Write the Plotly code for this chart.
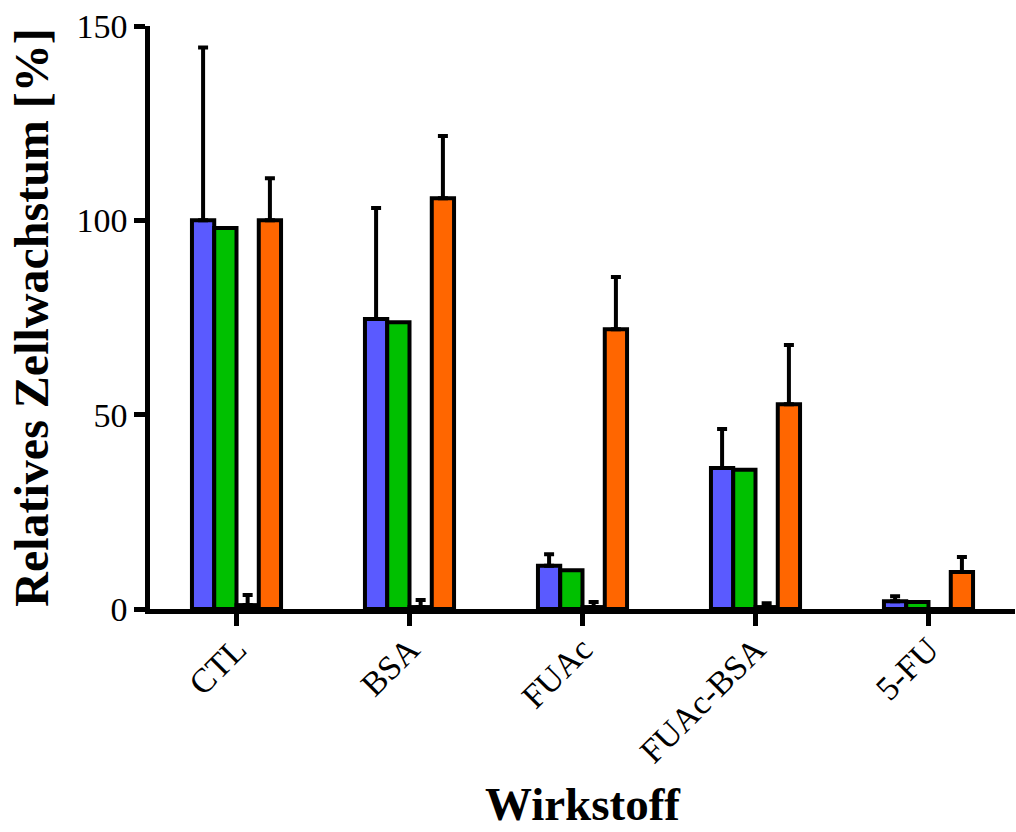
import plotly.graph_objects as go

categories = ["CTL", "BSA", "FUAc", "FUAc-BSA", "5-FU"]

blue_vals = [100.0, 74.6, 11.1, 36.3, 2.0]
blue_err = [44.5, 28.6, 3.0, 10.0, 1.3]

green_vals = [98.0, 73.8, 10.0, 35.8, 1.8]

white_vals = [1.0, 0.5, 0.5, 0.5, 0.0]
white_err = [2.6, 1.8, 1.3, 1.0, 0.0]

orange_vals = [100.0, 105.7, 72.0, 52.7, 9.5]
orange_err = [10.8, 16.0, 13.4, 15.2, 3.9]

y_ticks = [0, 50, 100, 150]

font_family = "'Liberation Serif', 'Times New Roman', Times, serif"


def err(arr):
    return dict(type="data", array=arr, arrayminus=[0] * len(arr), symmetric=False,
                color="black", thickness=4, width=5)


fig = go.Figure()
fig.add_trace(go.Bar(x=categories, y=blue_vals, name="A",
                     marker=dict(color="#5a5aff", line=dict(color="black", width=4)),
                     error_y=err(blue_err)))
fig.add_trace(go.Bar(x=categories, y=green_vals, name="B",
                     marker=dict(color="#00c000", line=dict(color="black", width=4))))
fig.add_trace(go.Bar(x=categories, y=white_vals, name="C",
                     marker=dict(color="white", line=dict(color="black", width=4)),
                     error_y=err(white_err)))
fig.add_trace(go.Bar(x=categories, y=orange_vals, name="D",
                     marker=dict(color="#ff6600", line=dict(color="black", width=4)),
                     error_y=err(orange_err)))

fig.update_layout(
    width=1016, height=832,
    margin=dict(l=150, r=1, t=26, b=223),
    paper_bgcolor="white", plot_bgcolor="white",
    barmode="group", bargap=0.485, bargroupgap=0,
    showlegend=False,
    font=dict(family=font_family, color="black"),
)
fig.update_xaxes(
    showline=True, linecolor="black", linewidth=4.5,
    ticks="outside", ticklen=12, tickwidth=4.5, tickcolor="black",
    tickangle=-45, tickfont=dict(family=font_family, size=34, color="black"),
    ticklabelstandoff=-10,
    showgrid=False, zeroline=False,
    title=dict(text="<b>Wirkstoff</b>", font=dict(family=font_family, size=47, color="black"), standoff=20),
)
fig.update_yaxes(
    range=[0, 150], tickvals=y_ticks,
    showline=True, linecolor="black", linewidth=4.5,
    ticks="outside", ticklen=11, tickwidth=4.5, tickcolor="black",
    tickfont=dict(family=font_family, size=34, color="black"),
    showgrid=False, zeroline=False,
    title=dict(text="<b>Relatives Zellwachstum [%]</b>", font=dict(family=font_family, size=48, color="black"), standoff=14),
)

fig.write_html("out.html")
